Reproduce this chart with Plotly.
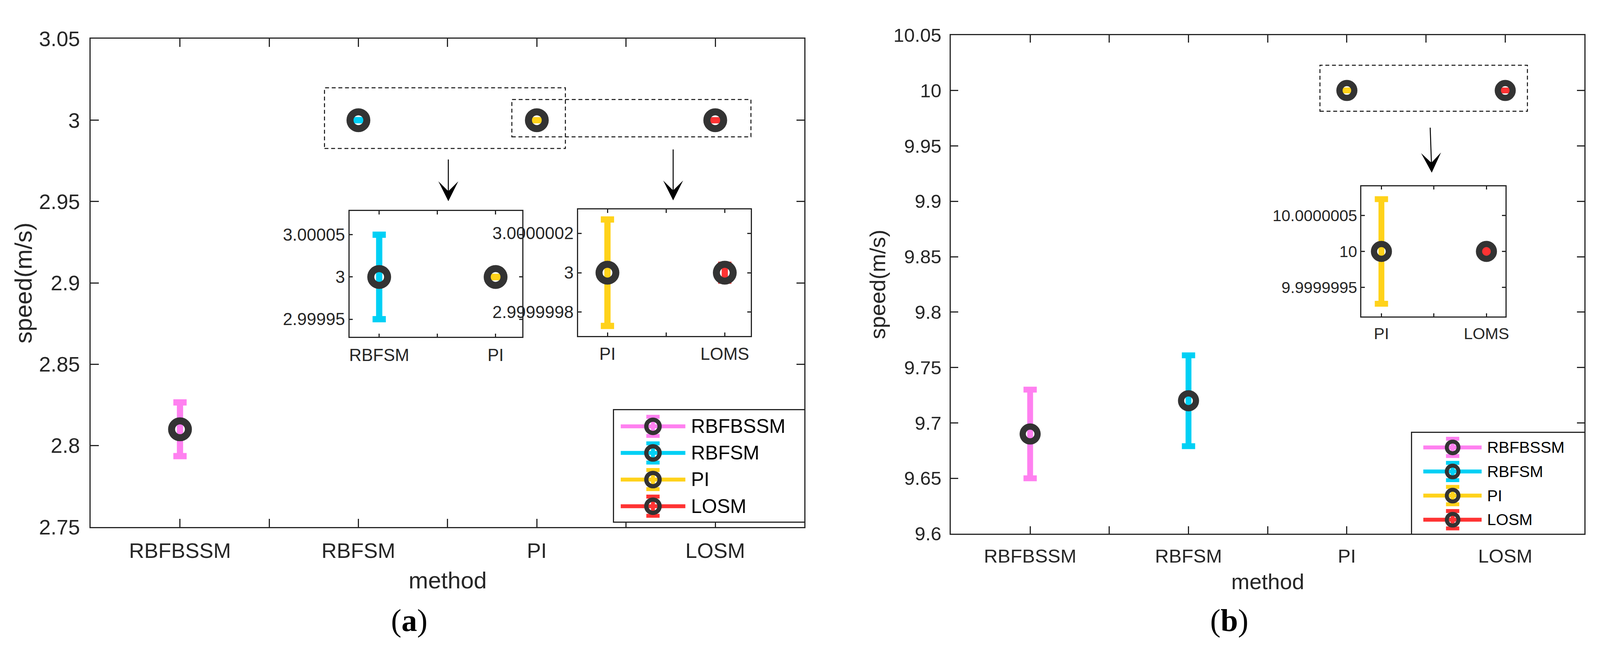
import plotly.graph_objects as go

W, H = 4237, 1697

# data
methods = ["RBFBSSM", "RBFSM", "PI", "LOSM"]
method_x = [1, 2, 3, 4]
speed_a = [2.81, 3.0, 3.0, 3.0]
err_a = [0.0165, 0.00005, 0.00000027, 0.00000004]
speed_b = [9.69, 9.72, 10.0, 10.0]
err_b = [0.04, 0.041, 0.00000073, 0.00000002]

inset_a1_x = ["RBFSM", "PI"]
inset_a1_y = ["2.99995", "3", "3.00005"]
inset_a2_x = ["PI", "LOMS"]
inset_a2_y = ["2.9999998", "3", "3.0000002"]
inset_b_x = ["PI", "LOMS"]
inset_b_y = ["9.9999995", "10", "10.0000005"]

colors = ["#FF80F0", "#00D0F5", "#FFD21A", "#FF3333"]
ring = "#333333"
ink = "#262626"


def dom(x0, x1, y0, y1):
    # pixel box -> axis domains
    return [x0 / W, x1 / W], [1 - y1 / H, 1 - y0 / H]


def px(x, y):
    return x / W, 1 - y / H


fig = go.Figure()


def add_points(n, idx, speeds, errs, msize, mline, eth, ew):
    for i in idx:
        fig.add_trace(go.Scatter(
            x=[method_x[i]], y=[speeds[i]], mode="markers",
            xaxis="x" + n, yaxis="y" + n, showlegend=False, cliponaxis=False,
            marker=dict(symbol="circle-open", size=msize, color=ring,
                        line=dict(width=mline, color=ring)),
            error_y=dict(type="data", array=[errs[i]], color=colors[i],
                         thickness=eth, width=ew),
        ))


add_points("", range(4), speed_a, err_a, 43, 18, 16, 17)
add_points("2", range(4), speed_b, err_b, 38, 16, 15, 17)
add_points("3", [1, 2], speed_a, err_a, 43, 18, 16, 17)
add_points("4", [2, 3], speed_a, err_a, 43, 18, 16, 17)
add_points("5", [2, 3], speed_b, err_b, 38, 16, 15, 17)


# hand-made legends (glyph = line + errorbar + ring)
def add_legend(n, x_line, x_mark, msize, mline):
    for i, m in enumerate(methods):
        fig.add_trace(go.Scatter(
            x=x_line, y=[i, i], mode="lines", xaxis="x" + n, yaxis="y" + n,
            line=dict(color=colors[i], width=10), showlegend=False, hoverinfo="skip"))
        fig.add_trace(go.Scatter(
            x=[x_mark], y=[i], mode="markers", xaxis="x" + n, yaxis="y" + n,
            showlegend=False, hoverinfo="skip",
            marker=dict(symbol="circle-open", size=msize, color=ring,
                        line=dict(width=mline, color=ring)),
            error_y=dict(type="data", array=[0.36], color=colors[i],
                         thickness=10, width=17)))


add_legend("6", [0.036, 0.375], 0.205, 34, 11)
add_legend("7", [0.066, 0.404], 0.236, 30, 10)

main_font = dict(family="Arial", size=54, color=ink)
main_font_b = dict(family="Arial", size=49, color=ink)
inset_font = dict(family="Arial", size=44, color=ink)
inset_font_b = dict(family="Arial", size=41, color=ink)

half_ticks = [1, 1.5, 2, 2.5, 3, 3.5, 4]
half_text = []
for m in methods:
    half_text += [m, ""]
half_text = half_text[:-1]

axis_common = dict(showline=True, linecolor=ink, linewidth=2.5, mirror="ticks",
                   ticks="inside", tickcolor=ink, tickwidth=2.5, showgrid=False,
                   zeroline=False, fixedrange=True)

layout = dict(margin=dict(l=0, r=0, t=0, b=0, pad=0), autosize=True,
              paper_bgcolor="white", plot_bgcolor="white")

# main (a)
xd, yd = dom(240, 2135, 72, 1367)
layout["xaxis"] = dict(axis_common, domain=xd, anchor="y", range=[0.5, 4.5],
                       tickvals=half_ticks, ticktext=half_text, ticklen=21,
                       tickfont=main_font, ticklabelstandoff=12)
layout["yaxis"] = dict(axis_common, domain=yd, anchor="x", range=[2.75, 3.05],
                       dtick=0.05, tick0=2.75, ticklen=21, tickfont=main_font,
                       ticklabelstandoff=14)
# main (b)
xd, yd = dom(2524, 4206, 62, 1385)
layout["xaxis2"] = dict(axis_common, domain=xd, anchor="y2", range=[0.5, 4.5],
                        tickvals=half_ticks, ticktext=half_text, ticklen=19,
                        tickfont=main_font_b, ticklabelstandoff=12)
layout["yaxis2"] = dict(axis_common, domain=yd, anchor="x2", range=[9.6, 10.05],
                        dtick=0.05, tick0=9.6, ticklen=19, tickfont=main_font_b,
                        ticklabelstandoff=12)


# insets
def inset(n, box, xr, yr, xlab, ylab, ycenter, ystep, font):
    xd, yd = dom(*box)
    x0 = round(xr[0] + 0.5)
    layout["xaxis" + n] = dict(axis_common, domain=xd, anchor="y" + n, range=xr,
                               tickvals=[x0, x0 + 0.5, x0 + 1],
                               ticktext=[xlab[0], "", xlab[1]], ticklen=9,
                               tickfont=font, ticklabelstandoff=6)
    layout["yaxis" + n] = dict(axis_common, domain=yd, anchor="x" + n, range=yr,
                               tickvals=[ycenter - ystep, ycenter, ycenter + ystep],
                               ticktext=ylab, ticklen=9, tickfont=font)


inset("3", (927, 1386, 529, 863), [1.745, 3.23], [2.999929, 3.000078],
      inset_a1_x, inset_a1_y, 3.0, 0.00005, inset_font)
inset("4", (1534, 1992, 525, 860), [2.75, 4.22], [2.99999968, 3.00000032],
      inset_a2_x, inset_a2_y, 3.0, 0.0000002, inset_font)
inset("5", (3614, 3996, 463, 809), [2.81, 4.18], [9.99999909, 10.00000091],
      inset_b_x, inset_b_y, 10.0, 0.0000005, inset_font_b)

# legend boxes
for n, box in (("6", (1629, 2135, 1057, 1353)), ("7", (3748, 4206, 1117, 1385))):
    xd, yd = dom(*box)
    layout["xaxis" + n] = dict(domain=xd, anchor="y" + n, range=[0, 1], showline=True,
                               linecolor=ink, linewidth=2.5, mirror=True, ticks="",
                               showticklabels=False, showgrid=False, zeroline=False,
                               fixedrange=True)
    layout["yaxis" + n] = dict(domain=yd, anchor="x" + n, range=[3.58, -0.61],
                               showline=True, linecolor=ink, linewidth=2.5, mirror=True,
                               ticks="", showticklabels=False, showgrid=False,
                               zeroline=False, fixedrange=True)

annotations = []
for n, xt, size in (("6", 0.40, 50), ("7", 0.432, 41)):
    for i, m in enumerate(methods):
        annotations.append(dict(x=xt, y=i, xref="x" + n, yref="y" + n, text=m,
                                showarrow=False, xanchor="left", yanchor="middle",
                                font=dict(family="Arial", size=size, color="black")))

# axis titles and panel labels
for (x, y), txt, size, ang in (
        (px(61, 720), "speed(m/s)", 62, -90),
        (px(1188, 1509), "method", 60, 0),
        (px(2329, 723), "speed(m/s)", 56, -90),
        (px(3365, 1512), "method", 56, 0)):
    annotations.append(dict(x=x, y=y, xref="paper", yref="paper", text=txt,
                            showarrow=False, textangle=ang, xanchor="center",
                            yanchor="middle", font=dict(family="Arial", size=size,
                                                        color=ink)))
for (x, y), txt in ((px(1085, 1616), "(<b>a</b>)"), (px(3263, 1616), "(<b>b</b>)")):
    annotations.append(dict(x=x, y=y, xref="paper", yref="paper", text=txt,
                            showarrow=False, xanchor="center", yanchor="middle",
                            font=dict(family="Liberation Serif", size=80,
                                      color="black")))

# arrows from the dashed boxes down to the insets
for n, head, tail in (("", (2.504, 2.9502), (2.504, 2.9762)),
                      ("", (3.764, 2.9507), (3.764, 2.9824)),
                      ("2", (3.536, 9.9258), (3.526, 9.967))):
    annotations.append(dict(x=head[0], y=head[1], ax=tail[0], ay=tail[1],
                            xref="x" + n, yref="y" + n, axref="x" + n, ayref="y" + n,
                            text="", showarrow=True, arrowhead=3, arrowsize=3.4,
                            arrowwidth=2.5, arrowcolor="black"))

layout["annotations"] = annotations

dash = dict(color="#111111", width=2.5, dash="10px,7px")
layout["shapes"] = [
    dict(type="rect", xref="x", yref="y", x0=1.81, x1=3.16, y0=2.9826, y1=3.0199, line=dash),
    dict(type="rect", xref="x", yref="y", x0=2.86, x1=4.20, y0=2.9898, y1=3.0127, line=dash),
    dict(type="rect", xref="x2", yref="y2", x0=2.83, x1=4.14, y0=9.9813, y1=10.0228, line=dash),
]

fig.update_layout(layout)
fig.write_html(
    "out.html",
    default_width="100vw",
    default_height="100vh",
    config={"responsive": True, "displayModeBar": False},
    post_script="document.body.style.margin='0';document.body.style.overflow='hidden';"
                "window.dispatchEvent(new Event('resize'));",
)
